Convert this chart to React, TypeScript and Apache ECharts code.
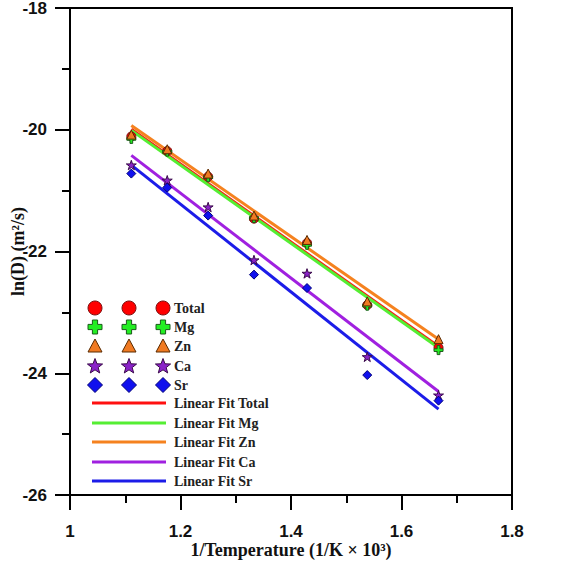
import React, { useEffect, useRef } from "react";
import * as echarts from "echarts";

// 1/T values (1/K x 10^3)
const invT = [1.111, 1.176, 1.25, 1.333, 1.429, 1.538, 1.667];
// ln(D) values
const totalVals = [-20.11, -20.35, -20.77, -21.46, -21.86, -22.88, -23.58];
const mgVals = [-20.15, -20.36, -20.78, -21.45, -21.89, -22.89, -23.62];
const znVals = [-20.08, -20.32, -20.72, -21.41, -21.81, -22.82, -23.44];
const caVals = [-20.58, -20.83, -21.27, -22.14, -22.36, -23.73, -24.36];
const srVals = [-20.72, -20.95, -21.41, -22.38, -22.6, -24.03, -24.45];

// Linear fit end points
const fitX = [1.111, 1.667];
const fitTotal = [-19.99, -23.56];
const fitMg = [-20.01, -23.58];
const fitZn = [-19.93, -23.44];
const fitCa = [-20.42, -24.3];
const fitSr = [-20.58, -24.59];

const seriesNames = ["Total", "Mg", "Zn", "Ca", "Sr"];
const fitNames = ["Linear Fit Total", "Linear Fit Mg", "Linear Fit Zn", "Linear Fit Ca", "Linear Fit Sr"];

const STAR = "path://M50,0L61.2,34.5L97.6,34.5L68.2,55.9L79.4,90.5L50,69.1L20.6,90.5L31.8,55.9L2.4,34.5L38.8,34.5Z";
const PLUS = "path://M35,0H65V35H100V65H65V100H35V65H0V35H35Z";

const pointStyles = [
  { symbol: "circle", size: 9, color: "#ff0000", border: "#7a1010" },
  { symbol: PLUS, size: 9, color: "#22ee22", border: "#1a5a1a" },
  { symbol: "triangle", size: 9, color: "#f07a22", border: "#5a2a00" },
  { symbol: STAR, size: 10, color: "#8a22c8", border: "#3a0a4a" },
  { symbol: "diamond", size: 9, color: "#1010ee", border: "#00007a" },
];
const fitColors = ["#ff1010", "#55ee33", "#f5821f", "#a020e0", "#1c1ce8"];

function starPoints(cx: number, cy: number, R: number) {
  const pts: number[][] = [];
  const r = R * 0.42;
  for (let i = 0; i < 10; i++) {
    const a = -Math.PI / 2 + (i * Math.PI) / 5;
    const rad = i % 2 ? r : R;
    pts.push([cx + rad * Math.cos(a), cy + rad * Math.sin(a)]);
  }
  return pts;
}
function plusPoints(cx: number, cy: number, L: number, w: number) {
  return [
    [cx - w, cy - L], [cx + w, cy - L], [cx + w, cy - w], [cx + L, cy - w],
    [cx + L, cy + w], [cx + w, cy + w], [cx + w, cy + L], [cx - w, cy + L],
    [cx - w, cy + w], [cx - L, cy + w], [cx - L, cy - w], [cx - w, cy - w],
  ];
}

function legendSymbol(kind: number, cx: number, cy: number): any {
  const st = pointStyles[kind];
  const style = { fill: st.color, stroke: st.border, lineWidth: 1 };
  if (kind === 0) return { type: "circle", shape: { cx, cy, r: 7 }, style };
  if (kind === 1) return { type: "polygon", shape: { points: plusPoints(cx, cy, 7, 2.6) }, style };
  if (kind === 2) return { type: "polygon", shape: { points: [[cx, cy - 7], [cx + 7, cy + 6], [cx - 7, cy + 6]] }, style };
  if (kind === 3) return { type: "polygon", shape: { points: starPoints(cx, cy + 0.5, 8) }, style };
  return { type: "polygon", shape: { points: [[cx, cy - 7.5], [cx + 7.5, cy], [cx, cy + 7.5], [cx - 7.5, cy]] }, style };
}

export default function App() {
  const ref = useRef<HTMLDivElement>(null);
  useEffect(() => {
    if (!ref.current) return;
    const chart = echarts.init(ref.current, undefined, { renderer: "svg" });
    const valueSets = [totalVals, mgVals, znVals, caVals, srVals];
    const fitSets = [fitTotal, fitMg, fitZn, fitCa, fitSr];

    const lineSeries = fitSets.map((f, i) => ({
      type: "line",
      name: fitNames[i],
      data: fitX.map((x, j) => [x, f[j]]),
      showSymbol: false,
      lineStyle: { color: fitColors[i], width: 3 },
      z: 2,
    }));
    const scatterSeries = valueSets.map((vals, i) => ({
      type: "scatter",
      name: seriesNames[i],
      data: invT.map((x, j) => [x, vals[j]]),
      symbol: pointStyles[i].symbol,
      symbolSize: pointStyles[i].size,
      symbolKeepAspect: true,
      itemStyle: { color: pointStyles[i].color, borderColor: pointStyles[i].border, borderWidth: 1, opacity: 1 },
      z: 3,
    }));

    const graphics: any[] = [];
    const rowY = [308, 327, 346, 366, 385];
    const symX = [95, 129, 163];
    const textFont = "bold 14px 'Liberation Serif', 'Times New Roman', serif";
    rowY.forEach((y, i) => {
      symX.forEach((x) => graphics.push(legendSymbol(i, x, y)));
      graphics.push({ type: "text", style: { text: seriesNames[i], x: 174, y, verticalAlign: "middle", font: textFont, fill: "#222" } });
    });
    const lineY = [403, 423, 442, 462, 481];
    lineY.forEach((y, i) => {
      graphics.push({ type: "line", shape: { x1: 92, y1: y, x2: 166, y2: y }, style: { stroke: fitColors[i], lineWidth: 3 } });
      graphics.push({ type: "text", style: { text: fitNames[i], x: 174, y, verticalAlign: "middle", font: textFont, fill: "#222" } });
    });

    chart.setOption({
      animation: false,
      backgroundColor: "#ffffff",
      grid: { left: 70, right: 49, top: 8, bottom: 72, show: true, borderColor: "#000", borderWidth: 2, backgroundColor: "transparent", containLabel: false, outerBoundsMode: "none" },
      xAxis: {
        type: "value",
        min: 1,
        max: 1.8,
        interval: 0.2,
        name: "1/Temperature (1/K \u00d7 10\u00b3)",
        nameLocation: "middle",
        nameGap: 46,
        nameMoveOverlap: false,
        nameTextStyle: { fontFamily: "'Liberation Serif', serif", fontWeight: "bold", fontSize: 18, color: "#111" },
        axisLine: { show: true, onZero: false, lineStyle: { color: "#000", width: 2 } },
        axisTick: { show: true, inside: false, length: 15, lineStyle: { color: "#000", width: 2 } },
        minorTick: { show: true, splitNumber: 2, length: 8, lineStyle: { color: "#000", width: 2 } },
        axisLabel: { margin: 28, fontFamily: "'Liberation Sans', Arial, sans-serif", fontWeight: "bold", fontSize: 17, color: "#111" },
        splitLine: { show: false },
      },
      yAxis: {
        type: "value",
        min: -26,
        max: -18,
        interval: 2,
        name: "ln(D) (m\u00b2/s)",
        nameLocation: "middle",
        nameGap: 43,
        nameMoveOverlap: false,
        nameRotate: 90,
        nameTextStyle: { fontFamily: "'Liberation Serif', serif", fontWeight: "bold", fontSize: 18, color: "#111" },
        axisLine: { show: true, onZero: false, lineStyle: { color: "#000", width: 2 } },
        axisTick: { show: true, inside: false, length: 15, lineStyle: { color: "#000", width: 2 } },
        minorTick: { show: true, splitNumber: 2, length: 8, lineStyle: { color: "#000", width: 2 } },
        axisLabel: { margin: 23, fontFamily: "'Liberation Sans', Arial, sans-serif", fontWeight: "bold", fontSize: 17, color: "#111" },
        splitLine: { show: false },
      },
      series: [...lineSeries, ...scatterSeries],
      graphic: graphics,
    });
    return () => chart.dispose();
  }, []);
  return <div ref={ref} style={{ position: "fixed", left: 0, top: 0, width: 561, height: 567 }} />;
}
